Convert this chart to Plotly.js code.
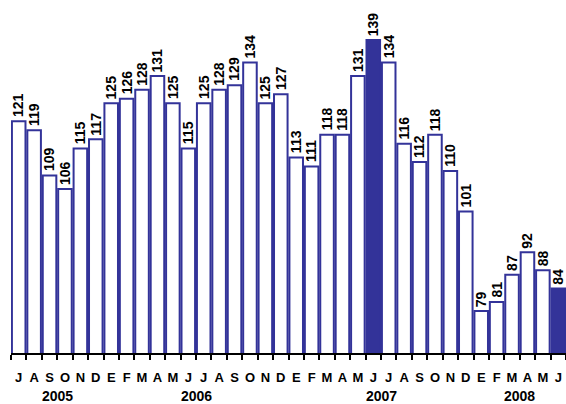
<!DOCTYPE html>
<html><head><meta charset="utf-8">
<script src="https://cdn.plot.ly/plotly-3.0.1.min.js"></script>
<style>html,body{margin:0;padding:0;background:#fff}#c{width:566px;height:404px}</style>
</head><body><div id="c"></div>
<script>
const periods = ["2005-07","2005-08","2005-09","2005-10","2005-11","2005-12",
"2006-01","2006-02","2006-03","2006-04","2006-05","2006-06","2006-07","2006-08","2006-09","2006-10","2006-11","2006-12",
"2007-01","2007-02","2007-03","2007-04","2007-05","2007-06","2007-07","2007-08","2007-09","2007-10","2007-11","2007-12",
"2008-01","2008-02","2008-03","2008-04","2008-05","2008-06"];
const monthLabels = ["J","A","S","O","N","D","E","F","M","A","M","J","J","A","S","O","N","D","E","F","M","A","M","J","J","A","S","O","N","D","E","F","M","A","M","J"];
const values = [121,119,109,106,115,117,125,126,128,131,125,115,125,128,129,134,125,127,113,111,118,118,131,139,134,116,112,118,110,101,79,81,87,92,88,84];
const highlighted = ["2007-06","2008-06"];
const years = ["2005","2006","2007","2008"];
const yearCenters = [2.5, 11.5, 23.5, 32.5];

const navy = "#333399";
const FONT = "Liberation Sans, Arial, sans-serif";
const fills = periods.map(p => highlighted.includes(p) ? navy : "#ffffff");

const trace = {
  type: "bar",
  x: periods,
  y: values,
  marker: {color: fills, line: {color: navy, width: 2}},
  hoverinfo: "none"
};

const valueAnnotations = periods.map((p, i) => ({
  text: String(values[i]), xref: "x", yref: "y", x: p, y: values[i],
  textangle: -90, yanchor: "bottom", xanchor: "center", yshift: 2,
  showarrow: false,
  font: {family: FONT, size: 14, color: "#000", weight: "bold"}
}));

const yearAnnotations = years.map((y, i) => ({
  text: y, xref: "x", yref: "paper", x: yearCenters[i], y: 0,
  yanchor: "top", yshift: -33, showarrow: false,
  font: {family: FONT, size: 14, color: "#000", weight: "bold"}
}));

const layout = {
  width: 566, height: 404,
  margin: {l: 11, r: 0, t: 0, b: 51},
  paper_bgcolor: "#fff", plot_bgcolor: "#fff",
  showlegend: false,
  bargap: 0.12,
  xaxis: {
    type: "category",
    tickmode: "array",
    tickvals: periods,
    ticktext: monthLabels,
    tickson: "boundaries",
    tickangle: 0,
    ticks: "outside", ticklen: 5, tickwidth: 2, tickcolor: "#000",
    ticklabelstandoff: 11,
    showline: true, linecolor: "#000", linewidth: 2,
    showgrid: false, zeroline: false,
    tickfont: {family: FONT, size: 13, color: "#000", weight: "bold"},
    range: [-0.5, 35.5]
  },
  yaxis: {
    range: [69.7, 147.85],
    visible: false, showgrid: false, zeroline: false
  },
  annotations: valueAnnotations.concat(yearAnnotations)
};

Plotly.newPlot("c", [trace], layout, {staticPlot: true, displayModeBar: false});
</script>
</body></html>
